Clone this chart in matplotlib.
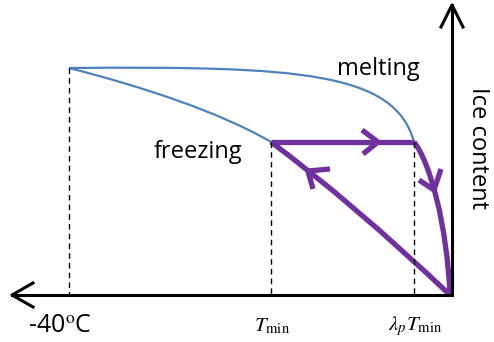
import matplotlib.pyplot as plt
from matplotlib.path import Path
from matplotlib.patches import PathPatch

plt.rcParams['mathtext.fontset'] = 'stix'

# schematic curves as Bezier control points (picture coordinates, y grows downward)
melt_pts = [(69, 68), (300, 66), (395, 72), (414, 142)]
freeze_pts = [(69, 68), (140, 86), (220, 112), (271, 142)]

# purple hysteresis loop
top_pts = [(271, 142), (414, 142)]
drop_pts = [(414, 142), (430, 162), (447, 225), (450, 295)]
back_pts = [(450, 295), (352, 202), (271, 142)]

# arrow chevrons
chev_right_x = [362, 378, 363]
chev_right_y = [130, 142, 154]
chev_down_x = [419, 434, 441]
chev_down_y = [180, 190, 169]
chev_back_x = [330, 308, 313]
chev_back_y = [169, 171, 189]

# dashed guides
guide_x = [69, 271, 414]
guide_top = [68, 142, 142]
axis_y = 295
axis_x = 452

fig = plt.figure(figsize=(4.94, 3.42), dpi=100)
ax = fig.add_axes([0, 0, 1, 1])
ax.set_xlim(0, 494)
ax.set_ylim(342, 0)
ax.axis('off')

purple = '#7030A0'
blue = '#4F81BD'


def bezier(pts, **style):
    codes = [Path.MOVETO]
    if len(pts) == 4:
        codes += [Path.CURVE4] * 3
    elif len(pts) == 3:
        codes += [Path.CURVE3] * 2
    else:
        codes += [Path.LINETO]
    ax.add_patch(PathPatch(Path(pts, codes), fill=False, **style))


for gx, gt in zip(guide_x, guide_top):
    ax.plot([gx, gx], [gt, axis_y], color='black', lw=1.0, ls=(0, (4, 3)))

bezier(melt_pts, edgecolor=blue, lw=1.6)
bezier(freeze_pts, edgecolor=blue, lw=1.6)

pkw = dict(edgecolor=purple, lw=3.8, capstyle='butt', joinstyle='miter')
bezier(top_pts, **pkw)
bezier(drop_pts, **pkw)
bezier(back_pts, **pkw)

kw = dict(color=purple, lw=3.8, solid_capstyle='butt', solid_joinstyle='miter')
ax.plot(chev_right_x, chev_right_y, **kw)
ax.plot(chev_down_x, chev_down_y, **kw)
ax.plot(chev_back_x, chev_back_y, **kw)

# axes with arrows
ax.plot([12, axis_x], [axis_y, axis_y], color='black', lw=2.2)
ax.plot([33, 12, 33], [283, axis_y, 307], color='black', lw=2.2)
ax.plot([axis_x, axis_x], [axis_y, 5], color='black', lw=2.2)
ax.plot([441, axis_x, 463], [27, 5, 27], color='black', lw=2.2)

font = ['Open Sans', 'DejaVu Sans']
ax.text(378, 69, 'melting', fontsize=17, family=font, ha='center', va='center')
ax.text(198, 152, 'freezing', fontsize=17, family=font, ha='center', va='center')
ax.text(478, 148, 'Ice content', fontsize=17, family=font, rotation=-90,
        ha='center', va='center')
ax.text(60, 326, '-40$^{\\rm o}$C', fontsize=18, family=font, ha='center', va='center')
ax.text(272, 326, '$T_{\\rm min}$', fontsize=15, ha='center', va='center')
ax.text(415, 326, '$\\lambda_p T_{\\rm min}$', fontsize=15, ha='center', va='center')

fig.savefig('out.png', dpi=100)
